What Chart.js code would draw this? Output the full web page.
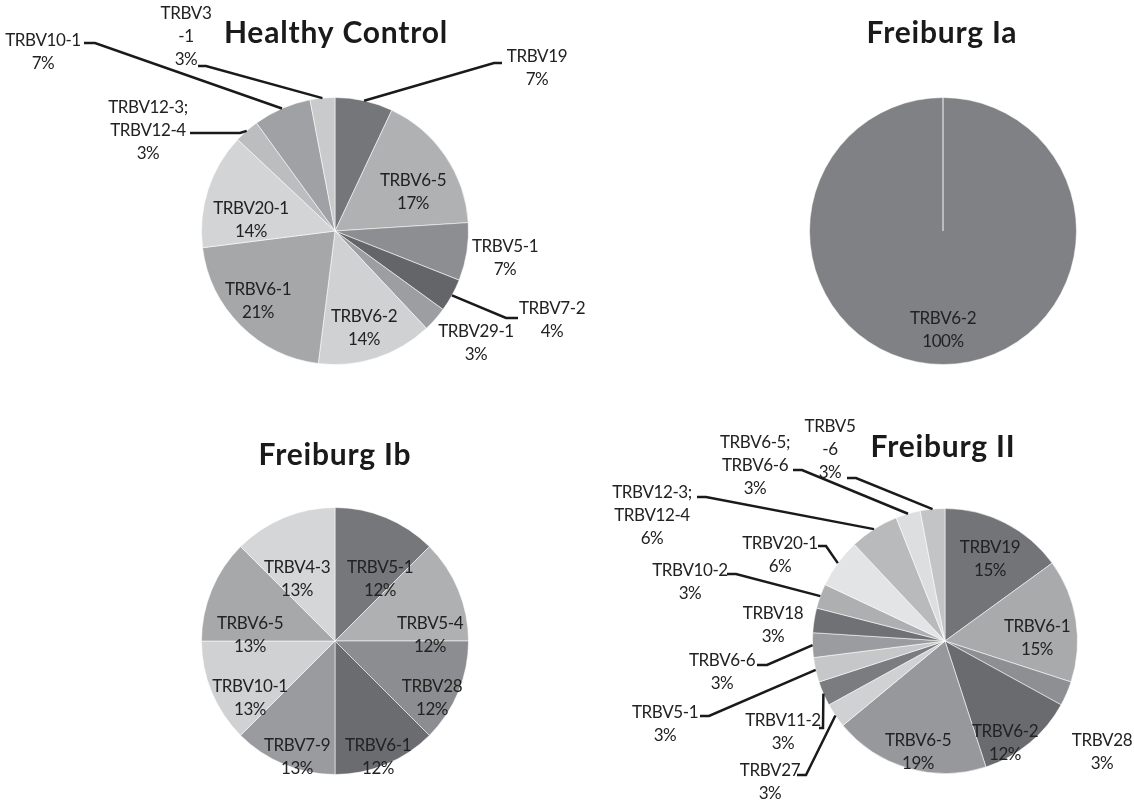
<!DOCTYPE html>
<html>
<head>
<meta charset="utf-8">
<script src="https://cdn.jsdelivr.net/npm/chart.js@4.4.0/dist/chart.umd.min.js"></script>
<style>
    body { margin: 0; background: #fff; }
    #wrap { position: relative; width: 1134px; height: 804px; }
    #wrap canvas { position: absolute; left: 0; top: 0; }
</style>
</head>
<body>
<div id="wrap">
    <canvas id="hc" width="1134" height="804"></canvas>
    <canvas id="ia" width="1134" height="804"></canvas>
    <canvas id="ib" width="1134" height="804"></canvas>
    <canvas id="ii" width="1134" height="804"></canvas>
</div>
<script>
// Healthy Control
const hcLabels = ['TRBV19', 'TRBV6-5', 'TRBV5-1', 'TRBV7-2', 'TRBV29-1', 'TRBV6-2', 'TRBV6-1', 'TRBV20-1', 'TRBV12-3; TRBV12-4', 'TRBV10-1', 'TRBV3-1'];
const hcValues = [7, 17, 7, 4, 3, 14, 21, 14, 3, 7, 3];

// Freiburg Ia
const iaLabels = ['TRBV6-2'];
const iaValues = [100];

// Freiburg Ib (eight equal slices, Excel rounds the shown percents)
const ibLabels = ['TRBV5-1', 'TRBV5-4', 'TRBV28', 'TRBV6-1', 'TRBV7-9', 'TRBV10-1', 'TRBV6-5', 'TRBV4-3'];
const ibValues = [12.5, 12.5, 12.5, 12.5, 12.5, 12.5, 12.5, 12.5];
const ibShown = ['12%', '12%', '12%', '12%', '13%', '13%', '13%', '13%'];

// Freiburg II
const iiLabels = ['TRBV19', 'TRBV6-1', 'TRBV28', 'TRBV6-2', 'TRBV6-5', 'TRBV27', 'TRBV11-2', 'TRBV5-1', 'TRBV6-6', 'TRBV18', 'TRBV10-2', 'TRBV20-1', 'TRBV12-3; TRBV12-4', 'TRBV6-5; TRBV6-6', 'TRBV5-6'];
const iiValues = [15, 15, 3, 12, 19, 3, 3, 3, 3, 3, 3, 6, 6, 3, 3];

// greys per slice
const hcColors = ['#75767a', '#b0b1b3', '#8d8e91', '#646569', '#9d9ea1', '#d0d1d3', '#a6a7a9', '#d3d4d6', '#bcbdbf', '#a0a1a4', '#c9cacc'];
const iaColors = ['#808185'];
const ibColors = ['#76777a', '#afb0b2', '#8c8d90', '#6b6c70', '#9a9b9e', '#d0d1d3', '#a7a8aa', '#d5d6d8'];
const iiColors = ['#737478', '#a9aaac', '#8e8f92', '#6a6b6f', '#97989b', '#d0d1d3', '#7b7c80', '#c6c7c9', '#9b9c9f', '#707175', '#aeafb1', '#e3e4e5', '#b9babc', '#dddee0', '#c3c4c6'];

// label placement: t = text offset from pie centre, e = leader elbow, s = stub length, br = break label after n chars
const hcPlace = [
    { t: [202, -163], e: [159, -168], s: 8 },
    { t: [78, -39] },
    { t: [170, 27] },
    { t: [217, 89], e: [171, 87], s: 12 },
    { t: [141, 112] },
    { t: [29, 97] },
    { t: [-77, 70] },
    { t: [-84, -11] },
    { t: [-187, -100], e: [-95, -98], s: -50 },
    { t: [-292, -179], e: [-240, -188], s: -11 },
    { t: [-149, -194], e: [-129, -165], s: -8, br: 5 }
];
const iaPlace = [{ t: [0, 99] }];
const ibPlace = [
    { t: [45, -62] }, { t: [95, -6] }, { t: [97, 57] }, { t: [43, 116] },
    { t: [-38, 116] }, { t: [-85, 57] }, { t: [-85, -6] }, { t: [-38, -62] }
];
const iiPlace = [
    { t: [45, -82] },
    { t: [92, -3] },
    { t: [157, 111] },
    { t: [60, 102] },
    { t: [-27, 111] },
    { t: [-175, 141], e: [-139, 134], s: -9 },
    { t: [-162, 91], e: [-122, 87], s: -4 },
    { t: [-280, 83], e: [-236, 75], s: -9 },
    { t: [-223, 31], e: [-178, 24], s: -10 },
    { t: [-172, -16] },
    { t: [-255, -59], e: [-209, -67], s: -9 },
    { t: [-165, -86], e: [-119, -95], s: -8 },
    { t: [-293, -125], e: [-239, -144], s: -9 },
    { t: [-190, -175], e: [-143, -171], s: -9 },
    { t: [-115, -191], e: [-89, -163], s: -9, br: 5 }
];

const W = 1134, H = 804;
const LABEL_FONT = '17px Lato, "Open Sans", sans-serif';
const TITLE_FONT = 'bold 30px Lato, "Open Sans", sans-serif';
const LINE_H = 23;

// Draws the title, the slice labels and leader lines
const pieLabelPlugin = {
    id: 'pieLabels',
    afterDraw(chart, args, opts) {
        const ctx = chart.ctx;
        const arcs = chart.getDatasetMeta(0).data;
        const labels = chart.data.labels;
        if (!arcs.length) return;
        const cx = arcs[0].x, cy = arcs[0].y;

        ctx.save();
        ctx.textAlign = 'center';
        ctx.textBaseline = 'middle';

        ctx.font = TITLE_FONT;
        ctx.letterSpacing = '0.8px';
        ctx.fillStyle = '#1a1a1a';
        ctx.fillText(opts.title, cx + opts.titleOffset[0], cy + opts.titleOffset[1]);

        ctx.font = LABEL_FONT;
        ctx.letterSpacing = '-0.4px';
        arcs.forEach((arc, i) => {
            const p = opts.place[i];
            let name = labels[i];
            let lines;
            if (p.br) {
                lines = [name.slice(0, p.br), name.slice(p.br)];
            } else {
                lines = name.split('; ').map((s, k, a) => (k < a.length - 1 ? s + ';' : s));
            }
            lines.push(opts.shown[i]);

            if (p.e) {
                const mid = (arc.startAngle + arc.endAngle) / 2;
                const ex = cx + Math.cos(mid) * arc.outerRadius;
                const ey = cy + Math.sin(mid) * arc.outerRadius;
                ctx.strokeStyle = '#1a1a1a';
                ctx.lineWidth = 2.5;
                ctx.beginPath();
                ctx.moveTo(ex, ey);
                ctx.lineTo(cx + p.e[0], cy + p.e[1]);
                ctx.lineTo(cx + p.e[0] + p.s, cy + p.e[1]);
                ctx.stroke();
            }

            ctx.fillStyle = '#222222';
            const x = cx + p.t[0];
            const y0 = cy + p.t[1] - (lines.length - 1) * LINE_H / 2;
            lines.forEach((line, k) => ctx.fillText(line, x, y0 + k * LINE_H));
        });
        ctx.restore();
    }
};

function makePie(canvasId, labels, values, colors, shown, place, title, titleOffset, cx, cy, r) {
    const ctx = document.getElementById(canvasId).getContext('2d');
    return new Chart(ctx, {
        type: 'pie',
        data: {
            labels: labels,
            datasets: [{
                data: values,
                backgroundColor: colors,
                borderColor: 'rgba(255,255,255,0.55)',
                borderWidth: 1
            }]
        },
        options: {
            responsive: false,
            animation: false,
            layout: {
                padding: { left: cx - r, top: cy - r, right: W - cx - r, bottom: H - cy - r }
            },
            plugins: {
                legend: { display: false },
                tooltip: { enabled: false },
                pieLabels: { shown: shown, place: place, title: title, titleOffset: titleOffset }
            }
        },
        plugins: [pieLabelPlugin]
    });
}

const pctText = vals => vals.map(v => Math.round(v) + '%');

makePie('hc', hcLabels, hcValues, hcColors, pctText(hcValues), hcPlace, 'Healthy Control', [1, -198], 335, 231, 134);
makePie('ia', iaLabels, iaValues, iaColors, pctText(iaValues), iaPlace, 'Freiburg Ia', [-1, -198], 943, 231, 134);
makePie('ib', ibLabels, ibValues, ibColors, ibShown, ibPlace, 'Freiburg Ib', [0, -186], 335, 641, 134);
makePie('ii', iiLabels, iiValues, iiColors, pctText(iiValues), iiPlace, 'Freiburg II', [-2, -194], 945, 641, 133);
</script>
</body>
</html>
